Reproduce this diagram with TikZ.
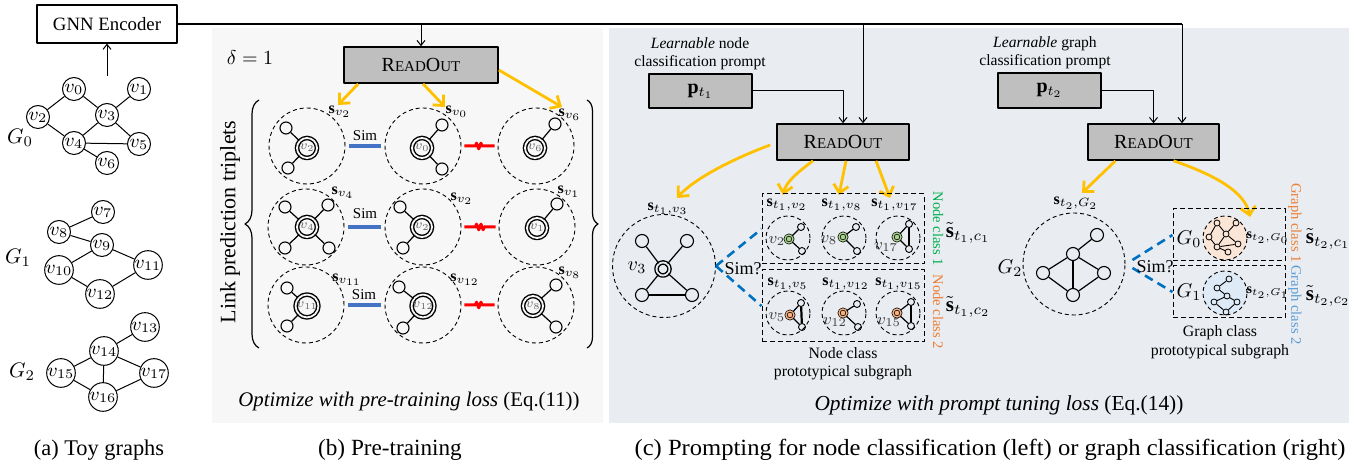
\RequirePackage{fix-cm}
\documentclass[tikz,border=0pt]{standalone}
\usepackage{fontspec}
\setmainfont{Liberation Serif}
\usetikzlibrary{arrows.meta,decorations.pathreplacing,decorations.pathmorphing,calc}
\definecolor{boxgray}{HTML}{BFBFBF}
\definecolor{panelb}{HTML}{F7F7F7}
\definecolor{panelc}{HTML}{E9ECF1}
\definecolor{yarrow}{HTML}{FFC000}
\definecolor{simblue}{HTML}{4472C4}
\definecolor{dblue}{HTML}{0070C0}
\definecolor{ngreen}{HTML}{00B050}
\definecolor{lgreen}{HTML}{A9D18E}
\definecolor{norange}{HTML}{ED7D31}
\definecolor{lorange}{HTML}{F4B183}
\definecolor{gblue}{HTML}{5B9BD5}
\definecolor{peach}{HTML}{FBE5D6}
\definecolor{lblue}{HTML}{DEEBF7}
\newcommand{\myfs}[1]{\fontsize{#1}{#1}\selectfont}
\newcommand{\readout}{{\myfs{10}R\myfs{7.5}EAD\myfs{10}O\myfs{7.5}UT}}
\tikzset{
  tn/.style={circle,draw,line width=0.5pt,minimum size=11.5pt,inner sep=0pt,fill=white,font=\myfs{9.5}},
  te/.style={line width=0.5pt},
  lbl/.style={inner sep=0pt,font=\myfs{10}},
  rbox/.style={draw,line width=0.8pt,fill=boxgray,inner sep=0pt},
  dc/.style={circle,draw,dash pattern=on 2pt off 1.5pt,line width=0.45pt,inner sep=0pt},
  dbox/.style={draw,dash pattern=on 2.5pt off 1.5pt,line width=0.5pt,inner sep=0pt},
  cn/.style={circle,draw,line width=0.7pt,double=panelb,double distance=0.9pt,minimum size=10pt,inner sep=0pt,font=\myfs{6.5},text=black!60},
  sat/.style={circle,draw,line width=0.55pt,minimum size=6pt,inner sep=0pt},
  se/.style={line width=0.6pt},
  thk/.style={line width=1.3pt},
  gn/.style={circle,draw,line width=0.35pt,double=#1,double distance=0.7pt,fill=#1,minimum size=4pt,inner sep=0pt},
  ss/.style={circle,draw,line width=0.45pt,minimum size=3.5pt,inner sep=0pt},
  mn/.style={circle,draw,line width=0.4pt,minimum size=3pt,inner sep=0pt},
  me/.style={line width=0.45pt},
  yarr/.style={draw=yarrow,line width=1.4pt,-{Straight Barb[length=4pt,width=7.5pt]}},
  simline/.style={draw=simblue,line width=1.7pt},
  redline/.style={draw=red,line width=1.5pt,decorate,decoration={zigzag,segment length=2.2pt,amplitude=1.4pt,pre length=5.5pt,post length=5.5pt}},
  dbl/.style={draw=dblue,line width=1.3pt,dash pattern=on 4.5pt off 2.8pt},
  darr/.style={line width=0.5pt,-{Straight Barb[length=2.5pt,width=4pt]}},
  slab/.style={inner sep=0pt,font=\myfs{8}},
  vlab/.style={inner sep=0pt,font=\myfs{8},text=black!75},
  rlab/.style={inner sep=0pt,rotate=-90,font=\myfs{7.3}},
  tlab/.style={inner sep=0pt,font=\myfs{10.5}},
  captxt/.style={inner sep=0pt,font=\myfs{11.6}},
}
\begin{document}
\begin{tikzpicture}[x=0.5pt,y=-0.5pt,line join=round]
\useasboundingbox (0,0) rectangle (1367,469);
% panels
\fill[panelb] (212,28) rectangle (603,423);
\fill[panelc] (609,28) rectangle (1349,423);

% ---------- (a) ----------
\node[draw,line width=0.6pt,fill=white,minimum width=70pt,minimum height=19pt,inner sep=0pt,font=\myfs{9.4}] (enc) at (107,24) {GNN Encoder};
\node[tn] (v0) at (74,89) {$v_0$};
\node[tn] (v1) at (139,89) {$v_1$};
\node[tn] (v2) at (38,117) {$v_2$};
\node[tn] (v3) at (107,115) {$v_3$};
\node[tn] (v4) at (74,143) {$v_4$};
\node[tn] (v5) at (139,144) {$v_5$};
\node[tn] (v6) at (107,163) {$v_6$};
\draw[te] (v0)--(v2) (v0)--(v3) (v3)--(v1) (v2)--(v4) (v3)--(v4) (v3)--(v5) (v4)--(v5) (v4)--(v6);
\node[lbl,font=\myfs{10.5}] (g0) at (20,138) {$G_0$};
\coordinate (a0) at (107,76);
\draw[darr] (a0) -- (enc.south);

\node[tn] (v7) at (103,212) {$v_7$};
\node[tn] (v8) at (59,232) {$v_8$};
\node[tn] (v9) at (102,245) {$v_9$};
\node[tn] (v10) at (59,270) {$v_{10}$};
\node[tn] (v11) at (148,265) {$v_{11}$};
\node[tn] (v12) at (100,294) {$v_{12}$};
\draw[te] (v8)--(v7) (v8)--(v9) (v9)--(v10) (v9)--(v11) (v10)--(v12) (v11)--(v12);
\node[lbl,font=\myfs{10.5}] (g1) at (18,258) {$G_1$};

\node[tn] (v13) at (145,327) {$v_{13}$};
\node[tn] (v14) at (104,351) {$v_{14}$};
\node[tn] (v15) at (61,373) {$v_{15}$};
\node[tn] (v16) at (103,397) {$v_{16}$};
\node[tn] (v17) at (154,373) {$v_{17}$};
\draw[te] (v14)--(v13) (v14)--(v15) (v14)--(v16) (v14)--(v17) (v15)--(v16) (v16)--(v17);
\node[lbl,font=\myfs{10.5}] (g2) at (22,372) {$G_2$};
\node[captxt,font=\myfs{11.2}] (capa) at (99,450) {(a) Toy graphs};

% ---------- encoder line ----------
\coordinate (t1) at (421,24);
\coordinate (t2) at (863,24);
\coordinate (t3) at (1182,24);
\draw[line width=1pt] (enc.east) -- (t3);

% ---------- (b) ----------
\node[lbl] (delta) at (250,58) {$\delta = 1$};
\node[rbox,minimum width=77pt,minimum height=18pt] (ro1) at (421,65) {\readout};
\draw[darr] (t1) -- (ro1.north);

% row 1
\node[dc,minimum size=38pt] (d11) at (307,146) {};
\node[cn] (c11) at (307,148) {$v_2$};
\node[sat] (s11a) at (286,128) {};
\node[sat] (s11b) at (288,168) {};
\draw[se] (c11)--(s11a) (c11)--(s11b);
\node[slab] (l11) at (340,112) {$\mathbf{s}_{v_2}$};

\node[dc,minimum size=38pt] (d12) at (423,146) {};
\node[cn] (c12) at (422,148) {$v_0$};
\node[sat] (s12a) at (442,125) {};
\node[sat] (s12b) at (442,169) {};
\draw[se] (c12)--(s12a) (c12)--(s12b);
\node[slab] (l12) at (457,112) {$\mathbf{s}_{v_0}$};

\node[dc,minimum size=38pt] (d13) at (536,146) {};
\node[cn] (c13) at (535,148) {$v_6$};
\node[sat] (s13a) at (555,124) {};
\draw[se] (c13)--(s13a);
\node[slab] (l13) at (570,115) {$\mathbf{s}_{v_6}$};

% row 2
\node[dc,minimum size=38pt] (d21) at (306,227) {};
\node[cn] (c21) at (307,227) {$v_4$};
\node[sat] (s21a) at (285,207) {};
\node[sat] (s21b) at (328,205) {};
\node[sat] (s21c) at (285,248) {};
\node[sat] (s21d) at (329,248) {};
\draw[se] (c21)--(s21a) (c21)--(s21b) (c21)--(s21c) (c21)--(s21d);
\node[slab] (l21) at (343,193) {$\mathbf{s}_{v_4}$};

\node[dc,minimum size=38pt] (d22) at (423,227) {};
\node[cn] (c22) at (422,227) {$v_2$};
\node[sat] (s22a) at (400,207) {};
\node[sat] (s22b) at (403,248) {};
\draw[se] (c22)--(s22a) (c22)--(s22b);
\node[slab] (l22) at (462,199) {$\mathbf{s}_{v_2}$};

\node[dc,minimum size=38pt] (d23) at (537,227) {};
\node[cn] (c23) at (537,228) {$v_1$};
\node[sat] (s23a) at (557,204) {};
\draw[se] (c23)--(s23a);
\node[slab] (l23) at (569,192) {$\mathbf{s}_{v_1}$};

% row 3
\node[dc,minimum size=38pt] (d31) at (306,305) {};
\node[cn] (c31) at (307,306) {$v_{11}$};
\node[sat] (s31a) at (287,288) {};
\node[sat] (s31b) at (287,326) {};
\draw[se] (c31)--(s31a) (c31)--(s31b);
\node[slab] (l31) at (347,280) {$\mathbf{s}_{v_{11}}$};

\node[dc,minimum size=38pt] (d32) at (423,305) {};
\node[cn] (c32) at (423,306) {$v_{12}$};
\node[sat] (s32a) at (399,287) {};
\node[sat] (s32b) at (403,328) {};
\draw[se] (c32)--(s32a) (c32)--(s32b);
\node[slab] (l32) at (465,280) {$\mathbf{s}_{v_{12}}$};

\node[dc,minimum size=38pt] (d33) at (536,305) {};
\node[cn] (c33) at (533,306) {$v_8$};
\node[sat] (s33a) at (556,285) {};
\node[sat] (s33b) at (556,327) {};
\draw[se] (c33)--(s33a) (c33)--(s33b);
\node[slab] (l33) at (570,273) {$\mathbf{s}_{v_8}$};

% sim / negative links
\draw[simline,shorten <=2pt,shorten >=2pt] (d11) -- (d12);
\draw[simline,shorten <=2pt,shorten >=2pt] (d21) -- (d22);
\draw[simline,shorten <=2pt,shorten >=2pt] (d31) -- (d32);
\node[inner sep=0pt,font=\myfs{7.5}] (sim1) at (365,136) {Sim};
\node[inner sep=0pt,font=\myfs{7.5}] (sim2) at (365,214) {Sim};
\node[inner sep=0pt,font=\myfs{7.5}] (sim3) at (364,295) {Sim};
\draw[redline] ([xshift=1.5pt]d12.east) -- ([xshift=-1.5pt]d13.west);
\draw[redline] ([xshift=1.5pt]d22.east) -- ([xshift=-1.5pt]d23.west);
\draw[redline] ([xshift=1.5pt]d32.east) -- ([xshift=-1.5pt]d33.west);

% braces
\coordinate (brL1) at (259,348); \coordinate (brL2) at (259,100);
\draw[decorate,decoration={brace,amplitude=7pt},line width=0.6pt] (brL1) -- (brL2);
\coordinate (brR1) at (587,100); \coordinate (brR2) at (587,348);
\draw[decorate,decoration={brace,amplitude=5.5pt},line width=0.6pt] (brR1) -- (brR2);
\node[inner sep=0pt,rotate=90,font=\myfs{11}] (lpt) at (230,222) {Link prediction triplets};

% yellow arrows (b)
\coordinate (yb1e) at (338,105);
\coordinate (yb2e) at (445,107);
\coordinate (yb3e) at (562,107);
\draw[yarr] ([xshift=7.5pt]ro1.south west) -- (yb1e);
\draw[yarr] ([xshift=1pt]ro1.south) -- (yb2e);
\draw[yarr] ([yshift=-2.5pt]ro1.east) -- (yb3e);

\node[inner sep=0pt,font=\myfs{10.4}] (optb) at (409,402) {\textit{Optimize with pre-training loss} (Eq.(11))};
\node[captxt] (capb) at (390,450) {(b) Pre-training};

% ---------- (c) left ----------
\node[inner sep=0pt,align=center,font=\fontsize{7.8}{9}\selectfont] (lp1) at (700,54) {\textit{Learnable} node\\classification prompt};
\node[rbox,minimum width=51.5pt,minimum height=17pt,font=\myfs{10}] (p1) at (700.5,91) {$\mathbf{p}_{t_1}$};
\node[rbox,minimum width=66pt,minimum height=18pt] (ro2) at (843,142) {\readout};
\draw[darr] (p1.east) -| (ro2.north);
\draw[darr] (t2) -- (t2 |- ro2.north);

\coordinate (yc1e) at (677,198);
\coordinate (yc2e) at (783,195);
\coordinate (yc3e) at (839,195);
\coordinate (yc4e) at (890,198);
\draw[yarr] ([yshift=-1.5pt,xshift=-3pt]ro2.west) .. controls (735,158) and (695,178) .. (yc1e);
\draw[yarr] ([xshift=-15pt]ro2.south) .. controls (798,172) and (786,182) .. (yc2e);
\draw[yarr] ([xshift=1.5pt]ro2.south) -- (yc3e);
\draw[yarr] ([xshift=16.5pt]ro2.south) -- (yc4e);

\node[dc,minimum size=51.5pt] (bigc) at (664,266) {};
\node[cn,minimum size=6.5pt,double=panelc] (c3) at (663,269) {};
\node[sat,minimum size=6.5pt] (q1) at (642,241) {};
\node[sat,minimum size=6.5pt] (q2) at (687,241) {};
\node[sat,minimum size=6.5pt] (q3) at (642,295) {};
\node[sat,minimum size=6.5pt] (q4) at (692,295) {};
\draw[se] (c3)--(q1) (c3)--(q2) (c3)--(q3) (c3)--(q4);
\draw[thk] (q3)--(q4);
\node[inner sep=0pt,font=\myfs{10}] (lv3) at (637,268) {$v_3$};
\node[slab] (lst13) at (668,209) {$\mathbf{s}_{t_1,v_3}$};

\node[dbox,minimum width=81pt,minimum height=35pt] (box1) at (843,229) {};
\node[dbox,minimum width=81pt,minimum height=36pt] (box2) at (843,306) {};
\draw[dbl] (bigc.east) -- (box1.west);
\draw[dbl] (bigc.east) -- (box2.west);
\node[inner sep=0pt,font=\myfs{9}] (sim4) at (743,269) {Sim?};

% class 1 subgraphs
\node[slab] (la1) at (787,205) {$\mathbf{s}_{t_1,v_2}$};
\node[slab] (la2) at (842,205) {$\mathbf{s}_{t_1,v_8}$};
\node[slab] (la3) at (895,205) {$\mathbf{s}_{t_1,v_{17}}$};
\node[dc,minimum size=22pt] (e1) at (788,238) {};
\node[gn=lgreen] (e1c) at (789,239) {};
\node[ss] (e1a) at (801,227) {};
\node[ss] (e1b) at (802,251) {};
\draw[se] (e1c)--(e1a) (e1c)--(e1b);
\node[vlab] (e1l) at (777,241) {$v_2$};
\node[dc,minimum size=22pt] (e2) at (844,238) {};
\node[gn=lgreen] (e2c) at (843,237) {};
\node[ss] (e2a) at (856,227) {};
\node[ss] (e2b) at (857,251) {};
\draw[se] (e2c)--(e2a) (e2c)--(e2b);
\node[vlab] (e2l) at (829,240) {$v_8$};
\node[dc,minimum size=22pt] (e3) at (898,238) {};
\node[gn=lgreen] (e3c) at (897,237) {};
\node[ss] (e3a) at (909,224) {};
\node[ss] (e3b) at (909,249) {};
\draw[se] (e3c)--(e3a) (e3c)--(e3b);
\draw[line width=1.1pt] (e3a)--(e3b);
\node[vlab] (e3l) at (886,247) {$v_{17}$};

% class 2 subgraphs
\node[slab] (lb1) at (788,284) {$\mathbf{s}_{t_1,v_5}$};
\node[slab] (lb2) at (846,284) {$\mathbf{s}_{t_1,v_{12}}$};
\node[slab] (lb3) at (899,284) {$\mathbf{s}_{t_1,v_{15}}$};
\node[dc,minimum size=22pt] (f1) at (788,313) {};
\node[gn=lorange] (f1c) at (790,315) {};
\node[ss] (f1a) at (801,303) {};
\node[ss] (f1b) at (802,327) {};
\draw[se] (f1c)--(f1a) (f1c)--(f1b);
\draw[line width=1.1pt] (f1a)--(f1b);
\node[vlab] (f1l) at (777,317) {$v_5$};
\node[dc,minimum size=22pt] (f2) at (844,313) {};
\node[gn=lorange] (f2c) at (843,313) {};
\node[ss] (f2a) at (857,304) {};
\node[ss] (f2b) at (858,327) {};
\draw[se] (f2c)--(f2a) (f2c)--(f2b);
\node[vlab] (f2l) at (835,322) {$v_{12}$};
\node[dc,minimum size=22pt] (f3) at (898,313) {};
\node[gn=lorange] (f3c) at (897,313) {};
\node[ss] (f3a) at (911,302) {};
\node[ss] (f3b) at (911,326) {};
\draw[se] (f3c)--(f3a) (f3c)--(f3b);
\draw[line width=1.1pt] (f3a)--(f3b);
\node[vlab] (f3l) at (889,322) {$v_{15}$};

\node[rlab,text=ngreen] (nc1) at (938,229) {Node class 1};
\node[rlab,text=norange] (nc2) at (938,312) {Node class 2};
\node[tlab] (ts1) at (968,233) {$\tilde{\mathbf{s}}_{t_1,c_1}$};
\node[tlab] (ts2) at (968,307) {$\tilde{\mathbf{s}}_{t_1,c_2}$};
\node[inner sep=0pt,align=center,font=\fontsize{7.9}{9}\selectfont] (ncp) at (843,364) {Node class\\prototypical subgraph};

% ---------- (c) right ----------
\node[inner sep=0pt,align=center,font=\fontsize{7.8}{9}\selectfont] (lp2) at (1045,53) {\textit{Learnable} graph\\classification prompt};
\node[rbox,minimum width=51.5pt,minimum height=17.5pt,font=\myfs{10}] (p2) at (1049.5,90.5) {$\mathbf{p}_{t_2}$};
\node[rbox,minimum width=65.5pt,minimum height=18pt] (ro3) at (1153.5,142) {\readout};
\draw[darr] (p2.east) -| (ro3.north);
\draw[darr] (t3) -- (t3 |- ro3.north);

\coordinate (yd1e) at (1082,193);
\coordinate (yd2e) at (1250,217);
\draw[yarr] ([xshift=-19pt]ro3.south) -- (yd1e);
\draw[yarr] ([xshift=10pt]ro3.south) .. controls (1215,175) and (1245,192) .. (yd2e);

\node[dc,minimum size=51pt] (gc) at (1074,264) {};
\node[sat,minimum size=6.5pt] (h1) at (1097,235) {};
\node[sat,minimum size=6.5pt] (h2) at (1073,254) {};
\node[sat,minimum size=6.5pt] (h3) at (1043,273) {};
\node[sat,minimum size=6.5pt] (h4) at (1104,273) {};
\node[sat,minimum size=6.5pt] (h5) at (1073,295) {};
\draw[se] (h2)--(h1) (h2)--(h3) (h2)--(h4) (h3)--(h5) (h4)--(h5);
\draw[thk] (h2)--(h5);
\node[inner sep=0pt,font=\myfs{10}] (lg2) at (1010,268) {$G_2$};
\node[slab] (lst2) at (1076,203) {$\mathbf{s}_{t_2,G_2}$};

\node[dbox,minimum width=56pt,minimum height=26pt] (box3) at (1229,235) {};
\node[dbox,minimum width=56pt,minimum height=26pt] (box4) at (1229,292) {};
\draw[dbl] ([xshift=3.5pt,yshift=2pt]gc.east) -- (box3.west);
\draw[dbl] ([xshift=3.5pt,yshift=-2pt]gc.east) -- (box4.west);
\node[inner sep=0pt,font=\myfs{9}] (sim5) at (1155,267) {Sim?};

\node[inner sep=0pt,font=\myfs{10}] (lg0) at (1189,239) {$G_0$};
\node[inner sep=0pt,font=\myfs{10}] (lg1) at (1189,292) {$G_1$};
\node[dc,fill=peach,minimum size=22pt] (pc) at (1225,238) {};
\node[dc,fill=lblue,minimum size=22pt] (bc) at (1225,293) {};
% mini G0
\node[mn] (m1) at (1217,223) {};
\node[mn] (m2) at (1236,223) {};
\node[mn] (m3) at (1209,237) {};
\node[mn] (m4) at (1226,234) {};
\node[mn] (m5) at (1217,247) {};
\node[mn] (m6) at (1238,244) {};
\node[mn] (m7) at (1228,252) {};
\draw[me] (m1)--(m3) (m1)--(m4) (m2)--(m4) (m3)--(m5) (m4)--(m5) (m4)--(m6) (m5)--(m6) (m5)--(m7);
% mini G1
\node[mn] (n1) at (1229,279) {};
\node[mn] (n2) at (1217,288) {};
\node[mn] (n3) at (1227,296) {};
\node[mn] (n4) at (1237,302) {};
\node[mn] (n5) at (1214,302) {};
\node[mn] (n6) at (1226,312) {};
\draw[me] (n1)--(n2) (n2)--(n3) (n3)--(n4) (n3)--(n5) (n5)--(n6) (n4)--(n6);

\node[inner sep=0pt,font=\myfs{7}] (lsg0) at (1268,238) {$\mathbf{s}_{t_2,G_0}$};
\node[inner sep=0pt,font=\myfs{7}] (lsg1) at (1268,293) {$\mathbf{s}_{t_2,G_1}$};
\node[rlab,text=norange] (gcl1) at (1295,223) {Graph class 1};
\node[rlab,text=gblue] (gcl2) at (1295,305) {Graph class 2};
\node[tlab] (ts3) at (1328,239) {$\tilde{\mathbf{s}}_{t_2,c_1}$};
\node[tlab] (ts4) at (1328,296) {$\tilde{\mathbf{s}}_{t_2,c_2}$};
\node[inner sep=0pt,align=center,font=\fontsize{7.9}{9.5}\selectfont] (gcp) at (1220,342) {Graph class\\prototypical subgraph};

\node[inner sep=0pt,font=\myfs{10.7}] (optc) at (999,405) {\textit{Optimize with prompt tuning loss} (Eq.(14))};
\node[captxt] (capc) at (990,450) {\scalebox{1.06}[1]{(c) Prompting for node classification (left) or graph classification (right)}};
\end{tikzpicture}
\end{document}
